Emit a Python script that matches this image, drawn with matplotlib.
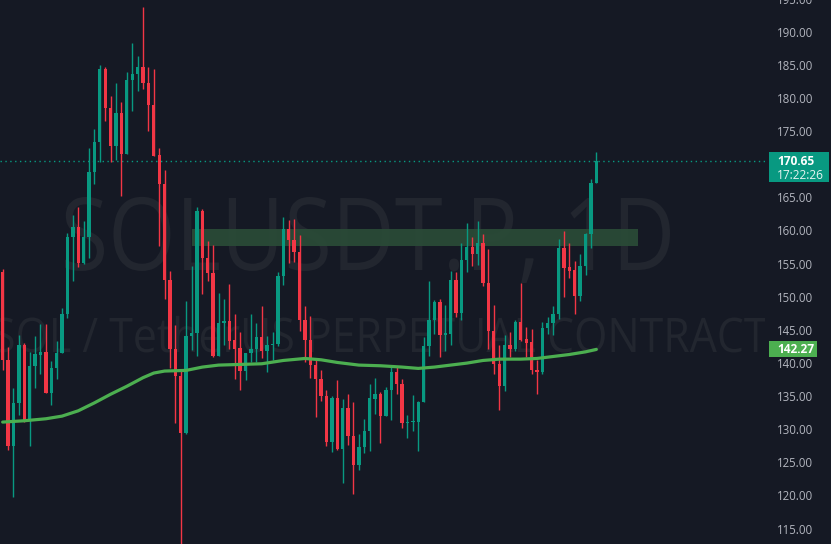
import matplotlib
matplotlib.use("Agg")
import matplotlib.pyplot as plt
from matplotlib.patches import Rectangle, PathPatch
from matplotlib.textpath import TextPath
from matplotlib.font_manager import FontProperties
from matplotlib.transforms import Affine2D, IdentityTransform
import numpy as np

# daily candles SOLUSDT.P (open, high, low, close)
opens = [154.0, 140.7, 127.7, 134.2, 142.9, 131.5, 139.8, 141.4, 141.9, 135.7,
         139.4, 141.7, 147.6, 159.3, 160.7, 155.3, 159.2, 169.1, 173.6, 184.6,
         178.7, 172.9, 178.0, 171.7, 183.0, 183.8, 184.9, 182.5, 179.1, 171.6,
         167.3, 152.7, 142.4, 138.2, 129.7, 144.3, 144.8, 163.1, 156.1, 153.8,
         141.3, 146.2, 146.6, 143.7, 142.5, 139.0, 141.8, 142.3, 144.2, 142.1,
         142.9, 143.1, 153.3, 160.5, 158.8, 157.0, 146.7, 143.7, 139.9, 137.8,
         135.2, 128.3, 134.9, 127.3, 133.5, 129.2, 124.8, 127.6, 130.0, 134.8,
         135.6, 132.2, 136.1, 138.9, 137.0, 131.2, 131.3, 131.3, 134.3, 142.8,
         146.7, 149.4, 144.5, 144.6, 152.7, 147.8, 155.7, 157.7, 156.7, 158.4,
         152.3, 145.0, 140.1, 136.7, 143.0, 142.4, 146.4, 143.8, 143.4, 139.2,
         138.8, 145.5, 146.3, 147.6, 157.5, 154.7, 154.2, 150.3, 154.8, 159.7,
         167.4]
highs = [154.4, 142.7, 136.4, 144.5, 143.2, 141.9, 144.3, 146.1, 146.1, 140.5,
         143.6, 148.5, 159.9, 162.5, 163.7, 161.6, 172.7, 175.5, 185.2, 184.9,
         180.5, 182.5, 179.6, 184.1, 188.5, 186.6, 194.0, 184.9, 184.6, 172.7,
         169.4, 154.1, 145.9, 139.3, 149.6, 154.9, 163.7, 163.5, 158.7, 158.0,
         150.8, 149.9, 152.1, 147.6, 144.9, 141.8, 147.6, 146.3, 148.8, 144.3,
         144.9, 154.0, 162.3, 161.8, 162.0, 159.6, 148.8, 147.3, 141.0, 139.1,
         136.1, 135.2, 137.6, 134.8, 135.5, 134.3, 129.5, 131.7, 137.1, 138.0,
         135.8, 136.6, 139.8, 139.8, 137.8, 132.3, 135.4, 134.5, 144.1, 152.6,
         149.7, 149.8, 149.0, 154.1, 153.9, 158.3, 161.3, 159.3, 161.7, 159.7,
         157.4, 149.0, 143.0, 144.5, 144.9, 146.7, 152.3, 145.6, 145.4, 140.7,
         146.4, 147.2, 148.8, 159.0, 160.1, 158.4, 155.6, 156.6, 159.8, 168.0,
         172.0]
lows = [139.1, 127.1, 120.0, 132.4, 131.3, 127.7, 136.4, 138.5, 135.7, 133.9,
        137.8, 141.7, 147.0, 152.6, 154.7, 155.2, 156.1, 167.3, 170.5, 176.8,
        170.5, 170.9, 165.4, 171.7, 178.2, 181.2, 181.6, 175.3, 171.5, 157.9,
        149.8, 139.4, 131.1, 109.0, 129.5, 142.2, 141.3, 150.6, 152.6, 141.1,
        141.2, 142.9, 142.3, 137.8, 136.2, 137.6, 140.4, 140.3, 141.0, 138.9,
        140.7, 142.8, 152.0, 155.3, 155.5, 145.1, 140.4, 138.0, 132.1, 134.5,
        127.7, 126.8, 127.1, 122.1, 127.9, 120.5, 124.0, 126.6, 127.0, 132.5,
        128.1, 132.2, 131.6, 135.5, 130.4, 128.9, 129.9, 127.0, 134.3, 141.3,
        144.6, 141.1, 142.1, 142.9, 147.2, 146.7, 153.9, 154.9, 155.0, 151.8,
        142.3, 138.5, 133.1, 136.0, 141.1, 142.0, 143.5, 141.1, 138.6, 135.5,
        138.6, 144.6, 144.5, 146.8, 150.2, 153.0, 147.6, 149.6, 153.5, 157.5,
        167.4]
closes = [140.6, 127.7, 134.2, 142.9, 131.5, 139.8, 141.5, 141.9, 135.7, 139.4,
          141.7, 147.6, 159.3, 160.7, 155.3, 159.2, 169.1, 173.6, 184.6, 178.7,
          172.9, 178.0, 171.7, 183.0, 183.9, 184.9, 182.5, 179.1, 171.5, 167.3,
          152.7, 142.4, 138.2, 129.7, 144.3, 144.8, 163.1, 156.1, 153.8, 141.3,
          146.3, 146.6, 143.6, 142.4, 139.0, 141.8, 142.4, 144.2, 142.1, 142.9,
          143.1, 153.3, 160.5, 158.8, 157.0, 146.7, 143.7, 139.9, 137.8, 135.2,
          128.3, 134.9, 127.3, 133.5, 129.2, 124.8, 127.6, 130.0, 135.0, 135.6,
          132.2, 136.1, 138.9, 137.0, 131.2, 131.3, 131.3, 134.3, 142.8, 146.7,
          149.4, 144.5, 144.6, 152.7, 147.8, 155.7, 157.7, 156.7, 158.4, 152.3,
          145.0, 140.1, 136.7, 143.0, 142.4, 146.4, 143.7, 143.3, 139.1, 138.8,
          145.5, 146.3, 147.6, 157.5, 154.5, 154.1, 150.3, 154.8, 159.7, 167.4,
          170.65]

# moving average line (candle index, value)
ma_idx = [0, 4, 8, 11, 14, 17, 20, 23, 26, 28, 30, 34, 37, 40, 44, 48, 52, 56,
          59, 62, 66, 70, 74, 77, 80, 83, 86, 89, 92, 96, 99, 102, 105, 108, 110]
ma_val = [131.3, 131.5, 131.8, 132.2, 133.0, 134.2, 135.5, 136.7, 138.0, 138.7,
          139.0, 139.1, 139.6, 139.9, 140.0, 140.1, 140.6, 140.9, 140.7, 140.3,
          139.9, 139.8, 139.6, 139.4, 139.6, 139.9, 140.2, 140.6, 140.8, 140.8,
          140.9, 141.2, 141.5, 141.9, 142.27]

# resistance zone (start candle, end candle, low, high)
zone = [35.0, 117.7, 157.9, 160.5]
price_ticks = np.arange(115, 196, 5)
countdown = "17:22:26"
title_mark = "SOLUSDT.P, 1D"
desc_mark = "SOL / TetherUS PERPETUAL CONTRACT"

BG = "#151924"
UP = "#089981"
DOWN = "#f23645"
MA_COL = "#4caf50"
WM_COL = "#22262f"

W, H = 831, 544
fig = plt.figure(figsize=(W / 100, H / 100), dpi=100, facecolor=BG)
ax = fig.add_axes([0, 0, 765 / W, 1])
ax.set_facecolor(BG)

o = np.array(opens); h = np.array(highs); l = np.array(lows); c = np.array(closes)
x = np.arange(len(o))
cols = np.where(c >= o, UP, DOWN)

ax.vlines(x, l, h, colors=cols, linewidth=1.0, zorder=3)
body_bot = np.minimum(o, c)
body_h = np.maximum(np.abs(c - o), 0.18)
ax.bar(x, body_h, bottom=body_bot, width=0.62, color=cols, linewidth=0, zorder=4)

ax.plot(ma_idx, ma_val, color=MA_COL, linewidth=2.3, solid_capstyle="round", zorder=5)

ax.add_patch(Rectangle((zone[0], zone[2]), zone[1] - zone[0], zone[3] - zone[2],
                       facecolor="#2a4a37", edgecolor="none", alpha=0.95, zorder=2))

ax.axhline(c[-1], color=UP, linestyle=(0, (1, 2.5)), linewidth=1.0, zorder=1)

# watermark, drawn as text paths so the width can be fitted
fp = FontProperties(family="Open Sans")
cap100 = TextPath((0, 0), "H", size=100, prop=fp).get_extents().height

def watermark(text, cap_px, base_px, sx_ratio=None, left=None, right=None):
    p = TextPath((0, 0), text, size=100, prop=fp)
    e = p.get_extents()
    sy = cap_px / cap100
    if sx_ratio is None:
        sx = (right - left) / e.width
    else:
        sx = sy * sx_ratio
    x0 = left - e.x0 * sx if left is not None else right - e.x1 * sx
    tr = Affine2D().scale(sx, sy).translate(x0, base_px)
    ax.add_patch(PathPatch(tr.transform_path(p), transform=IdentityTransform(),
                           facecolor=WM_COL, edgecolor="none", zorder=0))

watermark(title_mark, 72, H - 270, left=65, right=670)
watermark(desc_mark, 34, H - 352, sx_ratio=0.9, right=767)

ax.set_xlim(-0.495, 141.25)
ax.set_ylim(112.9, 194.5)
ax.set_xticks([])
ax.yaxis.tick_right()
ax.set_yticks(price_ticks)
ax.set_yticklabels([f"{v:.2f}" for v in price_ticks])
ax.tick_params(axis="y", length=0, pad=8.5, labelsize=8.3, labelcolor="#b2b5be")
for lab in ax.get_yticklabels():
    lab.set_family("Open Sans")
    lab.set_verticalalignment("center")
for s in ax.spines.values():
    s.set_visible(False)

# price labels on the axis
fig.canvas.draw()
def fig_y(v):
    return fig.transFigure.inverted().transform(ax.transData.transform((0, v)))[1]

yl = fig_y(c[-1])
fig.add_artist(Rectangle((769 / W, yl - 21 / H), 60 / W, 30 / H, transform=fig.transFigure,
                         facecolor=UP, edgecolor="none", zorder=10))
fig.text(777 / W, yl, f"{c[-1]:.2f}", color="white", fontsize=8.6, fontweight="bold",
         family="Open Sans", va="center", ha="left", zorder=11)
fig.text(777 / W, yl - 14 / H, countdown, color="#e6f4f1", fontsize=8.6,
         family="Open Sans", va="center", ha="left", zorder=11)

ym = fig_y(ma_val[-1])
fig.add_artist(Rectangle((769 / W, ym - 8 / H), 48 / W, 16 / H, transform=fig.transFigure,
                         facecolor=MA_COL, edgecolor="none", zorder=10))
fig.text(777 / W, ym, f"{ma_val[-1]:.2f}", color="white", fontsize=8.6, fontweight="bold",
         family="Open Sans", va="center", ha="left", zorder=11)

fig.savefig("out.png", dpi=100, facecolor=BG)
